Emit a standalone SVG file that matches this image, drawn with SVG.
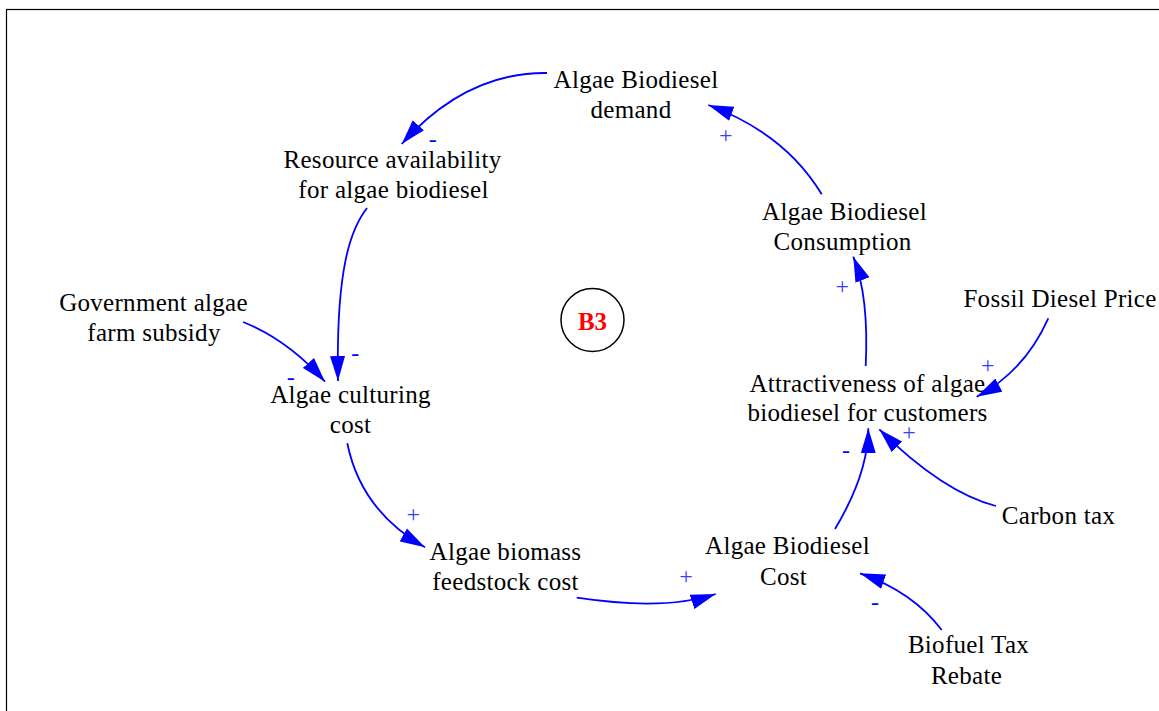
<svg xmlns="http://www.w3.org/2000/svg" width="1159" height="711" viewBox="0 0 1159 711">
  <style>
    .lbl { font-family: "Liberation Serif", "Times New Roman", serif; font-size: 25px; fill: #000; text-anchor: middle; letter-spacing: 0.3px; }
    .lnk { fill: none; stroke: #0000FF; stroke-width: 1.8; marker-end: url(#head); }
    .pol { font-family: "Liberation Serif", "Times New Roman", serif; font-size: 24px; fill: #0000FF; text-anchor: middle; }
    .plus { fill: #3B3BFF; }
    .loop { font-family: "Liberation Serif", "Times New Roman", serif; font-size: 25px; font-weight: bold; fill: #FF0000; text-anchor: middle; }
  </style>
  <defs>
    <marker id="head" markerUnits="userSpaceOnUse" viewBox="0 0 26 16" markerWidth="26" markerHeight="16" refX="25" refY="8" orient="auto">
      <path d="M0,0.5 L25,8 L0,15.5 z" fill="#0000FF"/>
    </marker>
  </defs>

  <rect width="1159" height="711" fill="#FFFFFF"/>
  <!-- frame -->
  <rect x="6.5" y="9.5" width="1170" height="720" fill="none" stroke="#000" stroke-width="1.2"/>

  <!-- causal links -->
  <g id="connectors">
    <path class="lnk" d="M547,73 Q466,72 401.7,144"/>
    <path class="lnk" d="M367,208 C350,230 336,270 338,381"/>
    <path class="lnk" d="M243,322 Q288,340 325,381.7"/>
    <path class="lnk" d="M347.3,443.3 Q361,511 425,547.3"/>
    <path class="lnk" d="M576.7,597.7 Q665,611 715.7,594"/>
    <path class="lnk" d="M835,529 Q868.3,473.5 868.3,428.3"/>
    <path class="lnk" d="M996,506 Q942.5,492 879.3,429.3"/>
    <path class="lnk" d="M1048.3,318.3 Q1024.3,371.7 976.7,396.7"/>
    <path class="lnk" d="M865.7,366 Q869.1,296.8 853.3,256.7"/>
    <path class="lnk" d="M821.7,194.3 Q785.3,133.6 708.3,105"/>
    <path class="lnk" d="M941.7,630 Q913.2,591.9 860,573.3"/>

    <!-- polarities -->
    <text class="pol" x="432.7" y="146.5">-</text>
    <text class="pol" x="355.3" y="361">-</text>
    <text class="pol" x="290.7" y="384.5">-</text>
    <text class="pol plus" x="413.3" y="522">+</text>
    <text class="pol plus" x="686" y="584.3">+</text>
    <text class="pol" x="846" y="458.3">-</text>
    <text class="pol plus" x="909" y="439.7">+</text>
    <text class="pol plus" x="987.7" y="372.7">+</text>
    <text class="pol plus" x="842.3" y="293.7">+</text>
    <text class="pol plus" x="725.7" y="143">+</text>
    <text class="pol" x="875" y="609.6">-</text>
  </g>

  <g id="demand">
    <text class="lbl" x="636" y="88">Algae Biodiesel</text>
    <text class="lbl" x="631" y="118">demand</text>
  </g>
  <g id="resource">
    <text class="lbl" x="392.5" y="168">Resource availability</text>
    <text class="lbl" x="393.5" y="198">for algae biodiesel</text>
  </g>
  <g id="subsidy">
    <text class="lbl" x="153.5" y="311">Government algae</text>
    <text class="lbl" x="154" y="341">farm subsidy</text>
  </g>
  <g id="culturing">
    <text class="lbl" x="350.5" y="403">Algae culturing</text>
    <text class="lbl" x="350.5" y="433">cost</text>
  </g>
  <g id="feedstock">
    <text class="lbl" x="505.5" y="560">Algae biomass</text>
    <text class="lbl" x="505.5" y="590">feedstock cost</text>
  </g>
  <g id="bdcost">
    <text class="lbl" x="787.5" y="554">Algae Biodiesel</text>
    <text class="lbl" x="783.5" y="585">Cost</text>
  </g>
  <g id="rebate">
    <text class="lbl" x="968.5" y="653">Biofuel Tax</text>
    <text class="lbl" x="966.5" y="684">Rebate</text>
  </g>
  <g id="carbontax">
    <text class="lbl" x="1058.5" y="524">Carbon tax</text>
  </g>
  <g id="attractiveness">
    <text class="lbl" x="867.5" y="392">Attractiveness of algae</text>
    <text class="lbl" x="867.5" y="421">biodiesel for customers</text>
  </g>
  <g id="fossil">
    <text class="lbl" x="1060" y="307">Fossil Diesel Price</text>
  </g>
  <g id="consumption">
    <text class="lbl" x="844.5" y="220">Algae Biodiesel</text>
    <text class="lbl" x="842.5" y="250">Consumption</text>
  </g>

  <!-- balancing loop marker -->
  <g id="loopB3">
    <circle cx="592.5" cy="320" r="31.5" fill="none" stroke="#000" stroke-width="1.5"/>
    <text class="loop" x="592.5" y="330">B3</text>
  </g>
</svg>
